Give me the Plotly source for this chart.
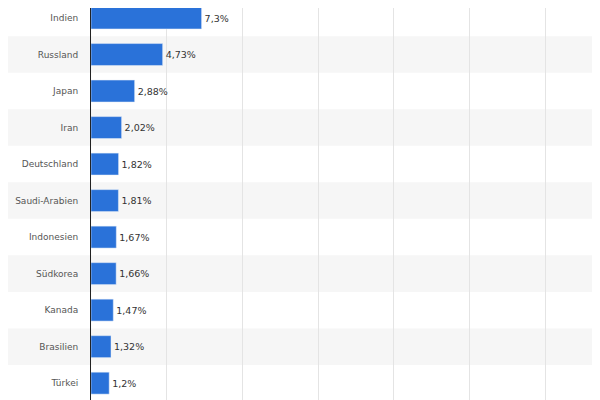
import plotly.graph_objects as go

countries = ["Indien","Russland","Japan","Iran","Deutschland","Saudi-Arabien","Indonesien","Südkorea","Kanada","Brasilien","Türkei"]
values = [7.3,4.73,2.88,2.02,1.82,1.81,1.67,1.66,1.47,1.32,1.2]
labels = ["7,3%","4,73%","2,88%","2,02%","1,82%","1,81%","1,67%","1,66%","1,47%","1,32%","1,2%"]

fig = go.Figure(go.Bar(
    y=countries, x=values, orientation="h", width=0.6,
    marker_color="#2a72d9", text=labels, textposition="outside",
    textfont=dict(size=9.5, color="#333", family="DejaVu Sans"), cliponaxis=False))

shapes = []
for i in range(1, len(countries) + 1, 2):
    shapes.append(dict(type="rect", xref="paper", x0=-0.17, x1=1.0, yref="y",
                       y0=i - 0.5, y1=i + 0.5, fillcolor="#f6f6f6", line_width=0, layer="below"))

fig.update_layout(
    width=600, height=400, margin=dict(l=83, r=5, t=0, b=0, autoexpand=False),
    plot_bgcolor="white", paper_bgcolor="white", showlegend=False, shapes=shapes,
    xaxis=dict(range=[0, 33.8], dtick=5, showticklabels=False, gridcolor="#e4e4e4",
               zeroline=False, showline=False),
    yaxis=dict(range=[10.68, -0.274], showline=True, linecolor="#222", linewidth=1, automargin=False,
               tickfont=dict(size=9, color="#555", family="DejaVu Sans"), ticks="", ticklabelstandoff=10),
)
fig.write_html("out.html")
